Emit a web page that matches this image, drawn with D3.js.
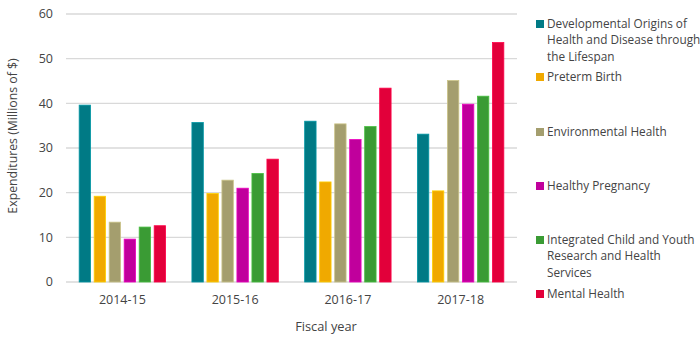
<!DOCTYPE html>
<html><head><meta charset="utf-8">
<script src="https://cdn.jsdelivr.net/npm/d3@7"></script>
<style>body{margin:0;background:#fff}svg{display:block;font-family:"Open Sans",sans-serif}</style>
</head><body><svg id="c" width="700" height="337"></svg>
<script>
const years = ["2014-15","2015-16","2016-17","2017-18"];
const seriesNames = [
  "Developmental Origins of Health and Disease through the Lifespan",
  "Preterm Birth","Environmental Health","Healthy Pregnancy",
  "Integrated Child and Youth Research and Health Services","Mental Health"];
const legendLines = [
  ["Developmental Origins of","Health and Disease through","the Lifespan"],
  ["Preterm Birth"],["Environmental Health"],["Healthy Pregnancy"],
  ["Integrated Child and Youth","Research and Health","Services"],["Mental Health"]];
const colors = ["#007A85","#F0A900","#A49E6E","#C0009C","#3A9B34","#E2003A"];
const devOrigins = [39.6,35.7,36.0,33.1];
const pretermBirth = [19.2,19.8,22.4,20.4];
const envHealth = [13.4,22.8,35.4,45.1];
const healthyPreg = [9.6,21.0,31.9,39.8];
const integrated = [12.3,24.3,34.8,41.6];
const mentalHealth = [12.6,27.5,43.4,53.6];
const values = [devOrigins,pretermBirth,envHealth,healthyPreg,integrated,mentalHealth];
const yTicks = [0,10,20,30,40,50,60];

const svg = d3.select("#c");
const L=66,R=517,T=14,B=282;
const x = d3.scaleBand().domain(years).range([L,R]).paddingInner(0.2335).paddingOuter(0.1168);
const xs = d3.scaleBand().domain(d3.range(6)).range([0,x.bandwidth()]).paddingInner(0.24).paddingOuter(0);
const y = d3.scaleLinear().domain([0,60]).range([B,T]);
const tc="#444444";

svg.append("g").selectAll("line").data(yTicks).join("line")
 .attr("x1",L).attr("x2",R).attr("y1",d=>y(d)).attr("y2",d=>y(d))
 .attr("stroke","#d9d9d9").attr("stroke-width",1.3);
svg.append("g").selectAll("text").data(yTicks).join("text")
 .attr("x",53).attr("y",d=>y(d)).attr("dy","0.35em").attr("text-anchor","end")
 .attr("font-size",12.5).attr("fill",tc).text(d=>d);

const g = svg.append("g");
values.forEach((vals,si)=>{
  g.append("g").selectAll("rect").data(vals).join("rect")
   .attr("x",(d,i)=>x(years[i])+xs(si)).attr("width",xs.bandwidth())
   .attr("y",d=>y(d)).attr("height",d=>y(0)-y(d))
   .attr("fill",colors[si]).attr("stroke",d3.color(colors[si]).brighter(0.6)).attr("stroke-width",0.8);
});

svg.append("g").selectAll("text").data(years).join("text")
 .attr("x",d=>x(d)+x.bandwidth()/2).attr("y",300).attr("dy","0.35em").attr("text-anchor","middle")
 .attr("font-size",12.5).attr("fill",tc).text(d=>d);

svg.append("text").attr("x",326).attr("y",327).attr("dy","0.35em").attr("text-anchor","middle")
 .attr("font-size",12.8).attr("fill",tc).text("Fiscal year");
svg.append("text").attr("transform","translate(13,136) rotate(-90)").attr("dy","0.35em").attr("text-anchor","middle")
 .attr("font-size",12.3).attr("fill",tc).text("Expenditures (Millions of $)");

const legY = [24,77,132,186,240,294];
const lg = svg.append("g");
legendLines.forEach((lines,i)=>{
  lg.append("rect").attr("x",536).attr("y",legY[i]-4).attr("width",8).attr("height",8).attr("fill",colors[i]);
  lines.forEach((t,j)=>{
    lg.append("text").attr("x",547).attr("y",legY[i]+j*16.3).attr("dy","0.35em")
     .attr("font-size",11.8).attr("fill",tc).text(t);
  });
});
</script></body></html>
